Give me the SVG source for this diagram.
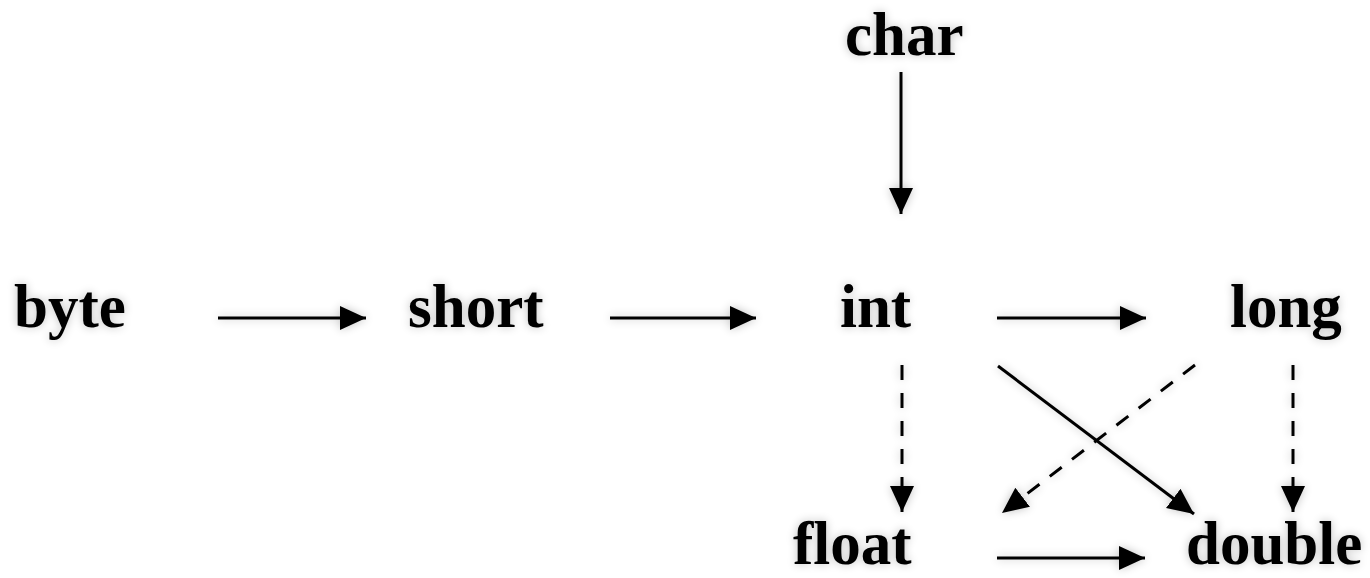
<svg xmlns="http://www.w3.org/2000/svg" width="1370" height="578" viewBox="0 0 1370 578">
<style>
.lbl{font-family:"Liberation Serif","Times New Roman",serif;font-weight:bold;font-size:61px;fill:#000}
.ln{stroke:#000;stroke-width:3;fill:none}
.dash{stroke-dasharray:15 13}
</style>
<defs>
<marker id="ah" markerUnits="userSpaceOnUse" markerWidth="28" markerHeight="26" refX="26" refY="13" orient="auto">
<path d="M0,1 L26,13 L0,25 Z" fill="#000"/>
</marker>
<filter id="sh" x="-20%" y="-20%" width="140%" height="140%">
<feGaussianBlur in="SourceAlpha" stdDeviation="5" result="b"/>
<feComponentTransfer in="b" result="c"><feFuncA type="linear" slope="0.25"/></feComponentTransfer>
<feMerge><feMergeNode in="c"/><feMergeNode in="SourceGraphic"/></feMerge>
</filter>
</defs>
<rect width="1370" height="578" fill="#fff"/>
<g filter="url(#sh)">
<g id="byte"><text class="lbl" x="14" y="327">byte</text></g>
<g id="short"><text class="lbl" x="408" y="327">short</text></g>
<g id="int"><text class="lbl" x="840" y="327">int</text></g>
<g id="long"><text class="lbl" x="1230" y="327">long</text></g>
<g id="char"><text class="lbl" x="845" y="55">char</text></g>
<g id="float"><text class="lbl" x="793" y="564">float</text></g>
<g id="double"><text class="lbl" x="1186" y="564">double</text></g>
<g id="connectors">
<line class="ln" x1="218" y1="318" x2="366" y2="318" marker-end="url(#ah)"/>
<line class="ln" x1="610" y1="318" x2="756" y2="318" marker-end="url(#ah)"/>
<line class="ln" x1="997" y1="318" x2="1146" y2="318" marker-end="url(#ah)"/>
<line class="ln" x1="997" y1="558" x2="1145" y2="558" marker-end="url(#ah)"/>
<line class="ln" x1="901" y1="72" x2="901" y2="214" marker-end="url(#ah)"/>
<line class="ln dash" x1="902" y1="365" x2="902" y2="512" marker-end="url(#ah)"/>
<line class="ln dash" x1="1293" y1="365" x2="1293" y2="512" marker-end="url(#ah)"/>
<line class="ln" x1="998" y1="366" x2="1194" y2="514" marker-end="url(#ah)"/>
<line class="ln dash" x1="1195" y1="365" x2="1002" y2="513" marker-end="url(#ah)"/>
</g>
</g>
</svg>
